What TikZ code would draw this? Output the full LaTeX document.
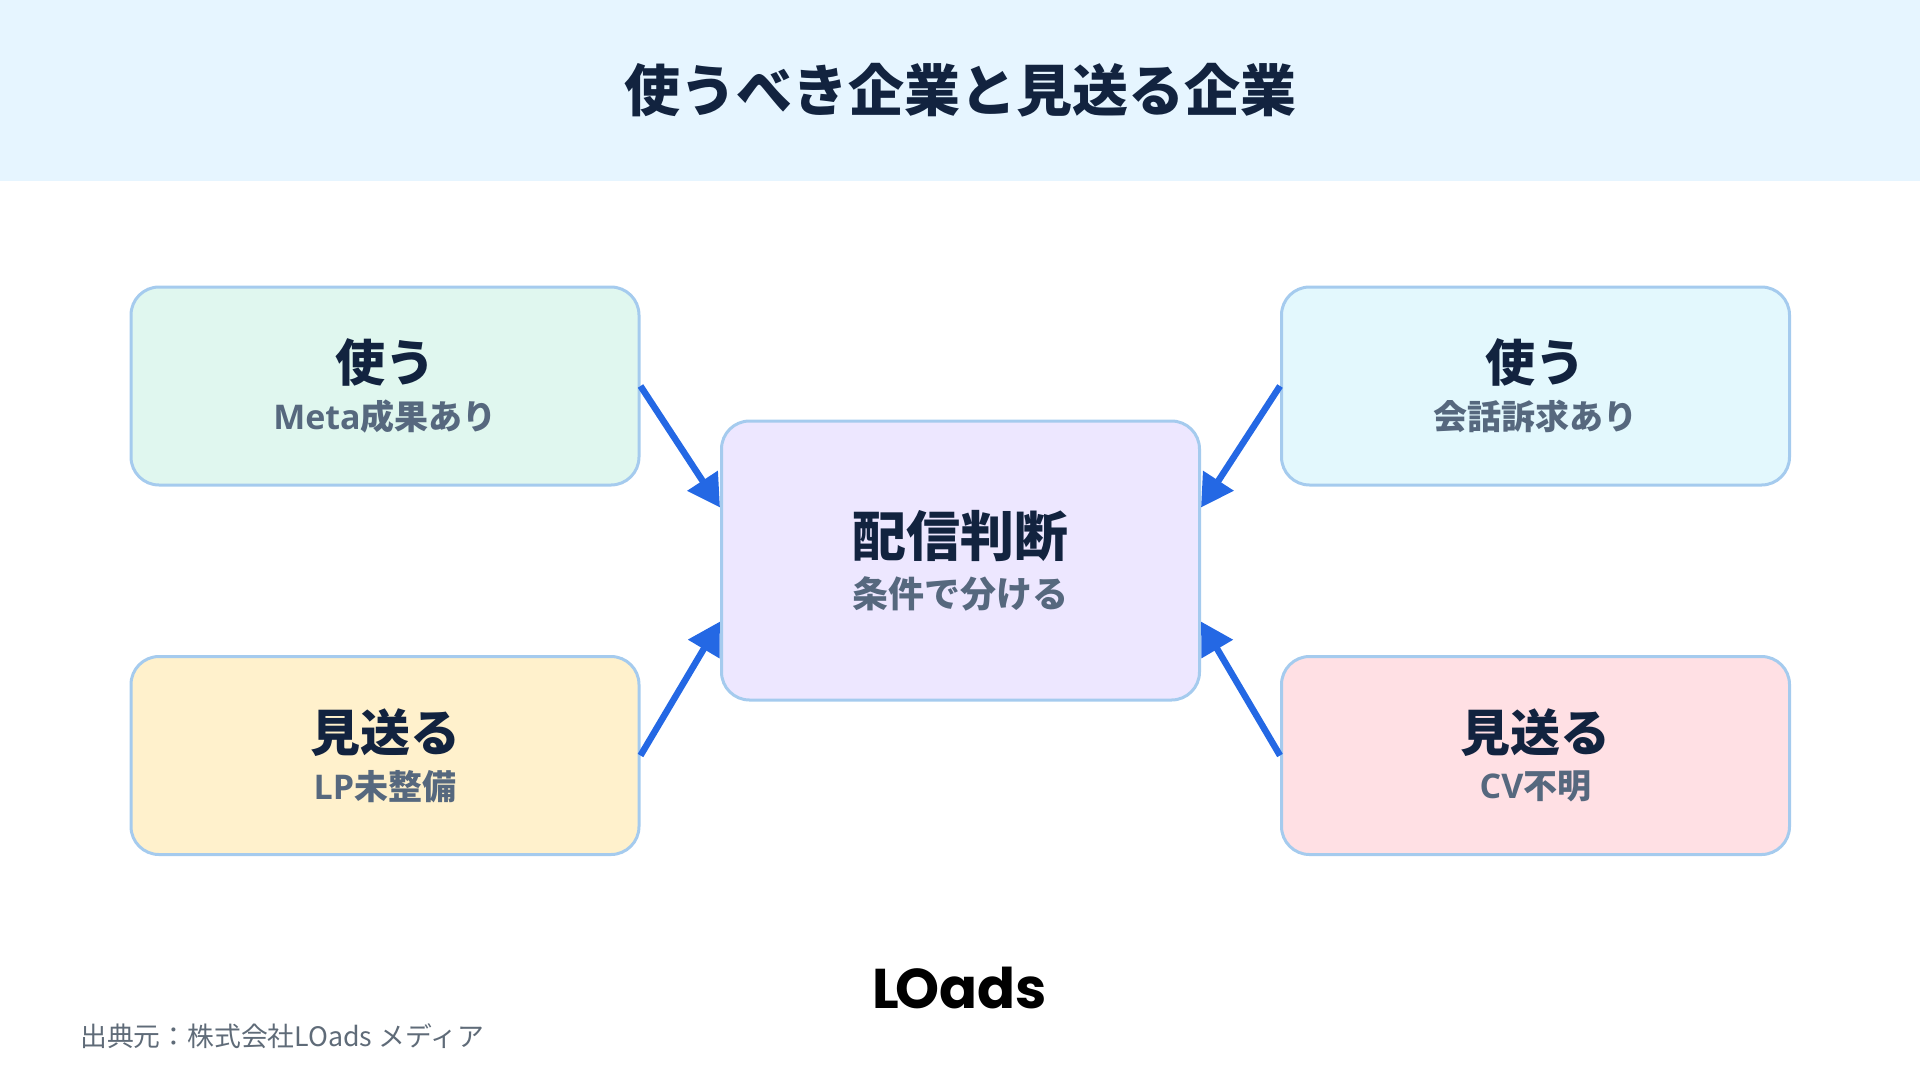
\documentclass[tikz,border=0pt]{standalone}
\usepackage{fontspec}
\usetikzlibrary{arrows.meta}
\setmainfont{Noto Sans CJK JP}
\newfontfamily\logofont{Poppins}
\newfontfamily\latinfont{Open Sans}
\definecolor{headblue}{HTML}{E6F5FF}
\definecolor{edgeblue}{HTML}{A5CBEE}
\definecolor{arrowblue}{HTML}{2468E4}
\definecolor{inknavy}{HTML}{12233F}
\definecolor{inkgrey}{HTML}{56687E}
\definecolor{footgrey}{HTML}{5F6B78}
\definecolor{fillgreen}{HTML}{E0F7EF}
\definecolor{fillcyan}{HTML}{E3F8FD}
\definecolor{fillyellow}{HTML}{FFF1CC}
\definecolor{fillpink}{HTML}{FFE0E4}
\definecolor{fillviolet}{HTML}{EDE7FF}
\newcommand{\cardtext}[2]{{\fontsize{50}{56}\selectfont\bfseries\color{inknavy}#1}\\[13pt]{\fontsize{34}{40}\selectfont\bfseries\color{inkgrey}#2}}

\begin{document}
\begin{tikzpicture}[x=1pt,y=1pt]
\tikzstyle{every node}+=[inner sep=0pt]
\tikzstyle{card}=[draw=edgeblue,line width=3pt,rounded corners=28pt,minimum width=508pt,minimum height=198pt,align=center]
\tikzstyle{link}=[draw=arrowblue,line width=6.5pt,-{Triangle[length=32pt,width=35pt]}]
\useasboundingbox (0,0) rectangle (1920,-1080);
\fill [headblue] (0,0) rectangle (1920,-181);
\node (title) at (960,-90) {\fontsize{56}{60}\selectfont\bfseries\color{inknavy}使うべき企業と見送る企業};
\node [card,fill=fillgreen] (usemeta) at (385,-386) {\cardtext{使う}{{\latinfont\bfseries Meta}成果あり}};
\node [card,fill=fillcyan] (usetalk) at (1535.5,-386) {\cardtext{使う}{会話訴求あり}};
\node [card,fill=fillyellow] (skiplp) at (385,-755.5) {\cardtext{見送る}{{\latinfont\bfseries LP}未整備}};
\node [card,fill=fillpink] (skipcv) at (1535.5,-755.5) {\cardtext{見送る}{{\latinfont\bfseries CV}不明}};
\node [card,fill=fillviolet,minimum width=478pt,minimum height=279pt] (judge) at (960.5,-560.5) {{\fontsize{54}{62}\selectfont\bfseries\color{inknavy}配信判断}\\[14pt]{\fontsize{36}{42}\selectfont\bfseries\color{inkgrey}条件で分ける}};
\draw [link] (usemeta.east) -- ([yshift=53pt]judge.west);
\draw [link] (usetalk.west) -- ([yshift=53pt]judge.east);
\draw [link] (skiplp.east) -- ([yshift=-61pt]judge.west);
\draw [link] (skipcv.west) -- ([yshift=-61pt]judge.east);
\node (logo) at (960,-988) {\logofont\fontsize{56}{60}\selectfont\bfseries\color{black}L\kern-4pt Oads};
\node [anchor=west] (source) at (80,-1036) {\fontsize{26.8}{32}\selectfont\color{footgrey}出典元：株式会社LOads メディア};
\end{tikzpicture}
\end{document}
